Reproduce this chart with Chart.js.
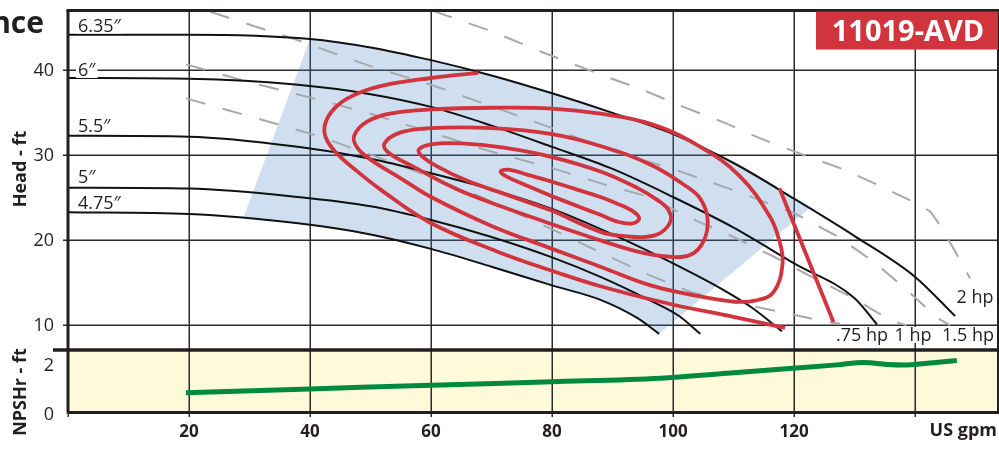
<!DOCTYPE html>
<html>
<head>
<meta charset="utf-8">
<script src="https://cdn.jsdelivr.net/npm/chart.js"></script>
<style>
html, body { margin: 0; padding: 0; background: #fff; }
#chartcontainer { width: 999px; height: 449px; position: relative; background: #fff; }
#band { position: absolute; left: 68px; top: 350px; width: 930px; height: 62px; background: #fef9d9; }
#myChart { position: relative; z-index: 1; }
</style>
</head>
<body>
<div id="chartcontainer"><div id="band"></div><canvas id="myChart"></canvas></div>
<script>
// axis ticks
var xTicks = [0, 20, 40, 60, 80, 100, 120, 140];
var headTicks = [10, 20, 30, 40];
var npshTicks = [0, 2];

// impeller curves, [US gpm, head ft]
var imp635 = [[0,44.1],[20,44.1],[40,43.6],[50,42.6],[60,41.1],[70,39.3],[80,37.2],[90,34.9],[100,32.4],[110,29.0],[120,24.8],[130,20.4],[140,15.6],[146.6,11.0]];
var imp600 = [[0,39.0],[20,38.9],[38,38.2],[50,37.1],[60,35.6],[70,33.4],[80,30.9],[90,28.3],[100,25.0],[110,21.4],[120,17.2],[130,13.1],[133.7,10.0]];
var imp550 = [[0,32.2],[20,32.1],[38,30.9],[50,29.5],[60,27.8],[70,25.9],[80,23.6],[90,20.6],[100,17.2],[108,14.2],[113,12.0],[118,9.2]];
var imp500 = [[0,26.1],[20,26.0],[38,25.0],[50,23.9],[60,22.3],[70,20.3],[80,17.9],[88,15.6],[96,12.9],[101,11.0],[104.5,8.9]];
var imp475 = [[0,23.2],[20,23.0],[38,21.9],[50,20.6],[60,18.9],[70,16.8],[80,14.6],[88,12.9],[94,10.8],[97.7,8.9]];
var impNames = ['6.35\u2033', '6\u2033', '5.5\u2033', '5\u2033', '4.75\u2033'];

// preferred operating region (shaded)
var zone = [[29,22.6],[40,43.6],[50,42.6],[60,41.1],[70,39.3],[80,37.2],[90,34.9],[100,32.4],[110,29.0],[120,24.8],[122.6,23.7],[97.7,8.9],[94,10.8],[88,12.9],[80,14.6],[70,16.8],[60,18.9],[50,20.6],[38,21.9],[29,22.6]];

// motor hp lines (dashed)
var hp075 = [[19.5,36.6],[30,34.5],[41.7,32.1],[55,28.7],[68.3,25.0],[80,21.2],[90,17.8],[96.1,15.8],[103,13.8],[110,12.6],[117.7,11.5],[125.4,10.3],[127.6,10.1]];
var hp100 = [[19.5,40.6],[30,38.5],[41.7,36.4],[50,34.8],[60,32.6],[69.2,30.5],[80,28.4],[89,26.4],[96.1,25.0],[102.3,22.7],[109.4,20.5],[116.6,18.0],[122.9,15.6],[129.3,13.3],[135.9,10.5],[138.6,9.9]];
var hp150 = [[23.5,46.8],[31.2,45.0],[37.8,43.5],[44.4,41.8],[50,40.4],[60,38.2],[70.3,35.6],[80,33.1],[90,30.4],[100,28.3],[110,25.8],[120,23.1],[127.3,20.3],[133.1,17.4],[138.6,14.1],[143.6,10.8],[145.8,9.9]];
var hp200 = [[60.3,46.9],[70,44.5],[78.5,42.0],[88.4,39.3],[95,37.6],[101.7,35.6],[108.3,33.8],[114.4,31.9],[121,30.1],[127.6,28.4],[133,26.7],[139.2,24.6],[142.5,23.3],[144,21.8],[146.3,19.0],[149.1,15.4]];

// efficiency contours (red)
var eff1 = [[80,25.1],[85,23.7],[88,22.9],[90.8,22.1],[93.3,21.9],[94.4,22.5],[93.2,23.4],[90.5,24.3],[88,25.0],[84,25.9],[80,26.8],[76,27.6],[73,28.2],[71.5,28.0],[72.5,27.4],[76,26.3],[80,25.1]];
var eff2 = [[80,23.4],[88,20.9],[92,20.4],[95.5,20.3],[98,20.8],[99.6,22.2],[99.2,23.5],[97.5,24.6],[94,26.1],[88,28.0],[80,29.7],[72,30.8],[65,31.3],[60,31.2],[58,30.6],[58.5,29.8],[61,28.6],[66,26.9],[72,25.4],[80,23.4]];
var eff3 = [[80,21.8],[88,19.9],[94,18.6],[99,18.0],[102.9,18.2],[105.1,19.9],[105.7,22.5],[104.5,24.8],[102.3,26.2],[96.3,28.8],[88,31.0],[80,32.4],[70,33.1],[60,33.1],[55,32.6],[52.3,31.3],[53,30.2],[57,28.6],[64,26.0],[72,23.8],[80,21.8]];
var eff4 = [[80,18.9],[88,16.8],[96.3,14.6],[104.5,13.3],[110,12.7],[113.5,12.8],[116.6,13.8],[118.1,17.2],[117.5,20.0],[116,22.7],[111.1,27.4],[104.5,30.9],[96.3,33.6],[88,34.8],[80,35.4],[70,35.5],[60,35.3],[54,34.9],[49.5,33.9],[47.3,32.2],[47.8,30.8],[50,29.4],[55,27.2],[60,25.0],[70,21.6],[80,18.9]];
var eff5 = [[67.8,39.6],[60,39.0],[52,38.1],[47,36.9],[44,35.4],[42.5,33.6],[42.6,32.0],[44.2,30.3],[47.5,28.2],[51.6,25.9],[59.8,22.0],[70.9,18.6],[81.3,16.0],[88,14.5],[99,12.5],[110,10.9],[118.5,9.6]];
var redLimit = [[117.6,26.0],[126.5,10.3]];

// NPSHr
var npshFlow = [19.5, 40, 60, 80, 97.9, 108.9, 119.8, 127.1, 131.5, 135.3, 138.6, 143, 146.9];
var npshFt   = [0.78, 0.93, 1.08, 1.22, 1.36, 1.56, 1.76, 1.90, 2.00, 1.92, 1.90, 1.99, 2.08];

var ink = '#231f20';
var red = '#d2343d';

function pts(a) {
  return a.map(function (p) { return {x: p[0], y: p[1]}; });
}

var datasets = [];
datasets.push({data: pts(zone), yAxisID: 'yHead', fill: 'shape', backgroundColor: 'rgba(63,127,195,0.25)', borderWidth: 0, tension: 0, order: 9});
[hp075, hp100, hp150, hp200].forEach(function (d) {
  datasets.push({data: pts(d), yAxisID: 'yHead', borderColor: '#a7a9ac', borderWidth: 2, borderDash: [20, 18], tension: 0, order: 6});
});
[imp635, imp600, imp550, imp500, imp475].forEach(function (d) {
  datasets.push({data: pts(d), yAxisID: 'yHead', borderColor: '#111', borderWidth: 2, cubicInterpolationMode: 'monotone', order: 4});
});
[eff1, eff2, eff3, eff4, eff5].forEach(function (d) {
  datasets.push({data: pts(d), yAxisID: 'yHead', borderColor: red, borderWidth: 3.8, tension: 0.4, order: 2});
});
datasets.push({data: pts(redLimit), yAxisID: 'yHead', borderColor: red, borderWidth: 3.8, tension: 0, order: 2});
datasets.push({
  data: npshFlow.map(function (x, i) { return {x: x, y: npshFt[i]}; }),
  yAxisID: 'yNpsh', borderColor: '#00893f', borderWidth: 5, cubicInterpolationMode: 'monotone', order: 1
});

function label(ctx, s, x, y, font, align, bg) {
  ctx.font = font;
  ctx.textAlign = align;
  ctx.textBaseline = 'alphabetic';
  if (bg) {
    var w = ctx.measureText(s).width;
    var x0 = align === 'center' ? x - w / 2 : (align === 'right' ? x - w : x);
    ctx.fillStyle = '#fff';
    ctx.fillRect(x0 - 2, y - bg, w + 4, bg + 2);
  }
  ctx.fillStyle = ink;
  ctx.fillText(s, x, y);
}

// grid lines at the tick values, under the datasets
var gridLines = {
  id: 'gridLines',
  beforeDatasetsDraw: function (chart) {
    var ctx = chart.ctx, a = chart.chartArea, sx = chart.scales.x, sy = chart.scales.yHead;
    ctx.save();
    ctx.strokeStyle = '#2b2b2b';
    ctx.lineWidth = 1.5;
    ctx.beginPath();
    xTicks.forEach(function (v) {
      var px = Math.round(sx.getPixelForValue(v)) + 0.25;
      ctx.moveTo(px, a.top); ctx.lineTo(px, a.bottom + 5);
    });
    headTicks.forEach(function (v) {
      var py = Math.round(sy.getPixelForValue(v)) + 0.25;
      ctx.moveTo(a.left - 5, py); ctx.lineTo(a.right, py);
    });
    ctx.stroke();
    ctx.restore();
  }
};

var decor = {
  id: 'decor',
  afterDatasetsDraw: function (chart) {
    var ctx = chart.ctx, a = chart.chartArea, yb = chart.scales.yNpsh;
    ctx.save();
    // frame
    ctx.strokeStyle = ink;
    ctx.lineCap = 'butt';
    ctx.lineWidth = 3;
    ctx.beginPath(); ctx.moveTo(a.left - 1.5, a.top + 0.5); ctx.lineTo(a.right + 1, a.top + 0.5); ctx.stroke();
    ctx.beginPath(); ctx.moveTo(a.left, a.top); ctx.lineTo(a.left, a.bottom + 1.5); ctx.stroke();
    ctx.lineWidth = 3.5;
    ctx.beginPath(); ctx.moveTo(53, yb.top); ctx.lineTo(a.right + 1, yb.top); ctx.stroke();
    ctx.lineWidth = 3;
    ctx.beginPath(); ctx.moveTo(a.left, a.bottom + 0.5); ctx.lineTo(a.right + 1, a.bottom + 0.5); ctx.stroke();
    ctx.lineWidth = 2;
    ctx.beginPath(); ctx.moveTo(a.right, a.top); ctx.lineTo(a.right, a.bottom); ctx.stroke();

    // impeller diameter labels
    var f = '18px "Open Sans"';
    label(ctx, impNames[0], 78, 31.5, f, 'left', 15);
    label(ctx, impNames[1], 78, 76, f, 'left', 15);
    label(ctx, impNames[2], 78, 131.5, f, 'left', 15);
    label(ctx, impNames[3], 78, 183, f, 'left', 14);
    label(ctx, impNames[4], 78, 208.5, f, 'left', 14);

    // motor labels
    label(ctx, '.75 hp', 862, 341, f, 'center', 14);
    label(ctx, '1 hp', 913, 341, f, 'center', 14);
    label(ctx, '1.5 hp', 968, 341, f, 'center', 14);
    label(ctx, '2 hp', 975, 303, f, 'center', 14);

    // axis titles
    ctx.fillStyle = ink;
    ctx.font = 'bold 18px "Open Sans"';
    ctx.textAlign = 'right';
    ctx.fillText('US gpm', 997, 436);
    ctx.textAlign = 'center';
    ctx.save(); ctx.translate(26, 169); ctx.rotate(-Math.PI / 2); ctx.fillText('Head - ft', 0, 0); ctx.restore();
    ctx.save(); ctx.translate(26, 392); ctx.rotate(-Math.PI / 2); ctx.fillText('NPSHr - ft', 0, 0); ctx.restore();

    // title fragment and model tag
    ctx.font = 'bold 30px "Open Sans"';
    ctx.textAlign = 'right';
    ctx.fillText('nce', 44, 33);
    ctx.fillStyle = '#d1343d';
    ctx.fillRect(816, 11.5, 182, 38);
    ctx.fillStyle = '#fff';
    ctx.font = 'bold 29px "Open Sans"';
    ctx.textAlign = 'center';
    ctx.fillText('11019-AVD', 908, 40.5);
    ctx.restore();
  }
};

function noPad(s) {
  s.paddingTop = 0; s.paddingBottom = 0; s.paddingLeft = 0; s.paddingRight = 0;
}

var tickFont = {family: 'Open Sans', size: 18};
var ctx = document.getElementById('myChart').getContext('2d');
window.chart = new Chart(ctx, {
  type: 'scatter',
  data: {datasets: datasets},
  plugins: [gridLines, decor],
  options: {
    responsive: true,
    maintainAspectRatio: false,
    animation: false,
    devicePixelRatio: 1,
    layout: {autoPadding: false, padding: {left: 0, right: 1, top: 10, bottom: 0}},
    datasets: {scatter: {showLine: true, pointRadius: 0, pointHoverRadius: 0}},
    plugins: {legend: {display: false}, tooltip: {enabled: false}},
    scales: {
      x: {
        type: 'linear', min: 0, max: 153.7,
        afterBuildTicks: function (s) { s.ticks = xTicks.map(function (v) { return {value: v}; }); },
        afterFit: function (s) { s.height = 37; noPad(s); },
        ticks: {
          autoSkip: false, maxRotation: 0, padding: 2, color: ink,
          font: {family: 'Open Sans', size: 17, weight: 'bold'},
          callback: function (v) { return (v === 0 || v === 140) ? '' : v; }
        },
        grid: {display: false},
        border: {display: false}
      },
      yHead: {
        type: 'linear', position: 'left', stack: 'panels', stackWeight: 340, weight: 2,
        min: 7, max: 47,
        afterBuildTicks: function (s) { s.ticks = headTicks.map(function (v) { return {value: v}; }); },
        afterFit: function (s) { s.width = 68; noPad(s); },
        ticks: {color: ink, font: tickFont, padding: 6, labelOffset: 1},
        grid: {display: false},
        border: {display: false}
      },
      yNpsh: {
        type: 'linear', position: 'left', stack: 'panels', stackWeight: 62, weight: 1,
        min: 0, max: 2.5,
        afterBuildTicks: function (s) { s.ticks = npshTicks.map(function (v) { return {value: v}; }); },
        afterFit: function (s) { s.width = 68; noPad(s); },
        ticks: {color: ink, font: tickFont, padding: 6, labelOffset: 3},
        grid: {display: false},
        border: {display: false}
      }
    }
  }
});
</script>
</body>
</html>
